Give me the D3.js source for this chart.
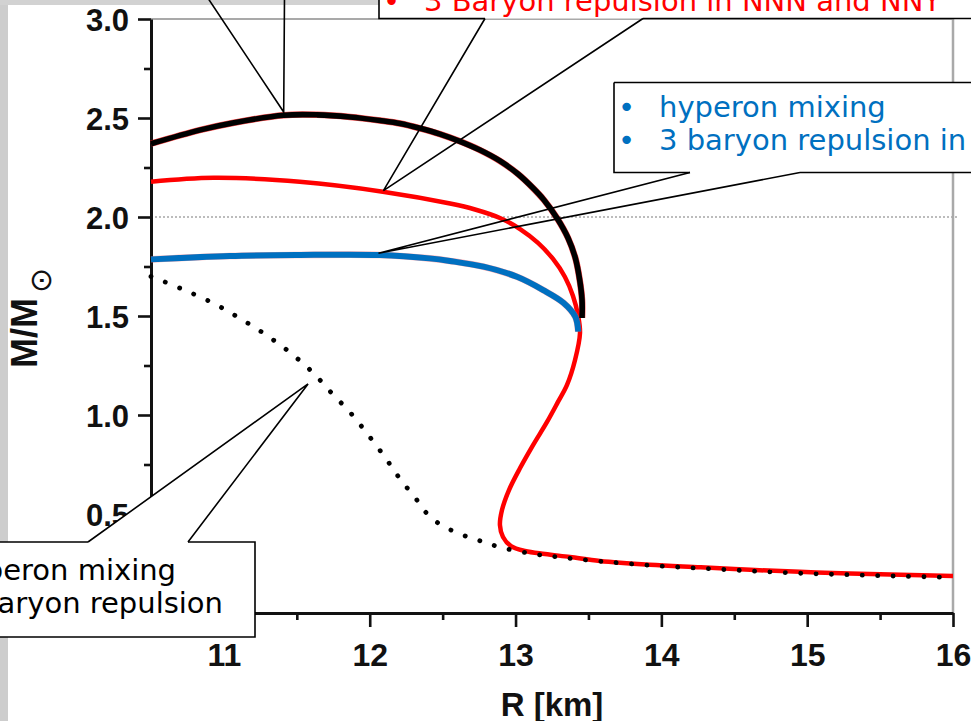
<!DOCTYPE html>
<html>
<head>
<meta charset="utf-8">
<script src="https://cdn.jsdelivr.net/npm/d3@7"></script>
<style>
  html, body { margin: 0; padding: 0; background: #fff; overflow: hidden; }
  svg { display: block; }
</style>
</head>
<body>
<svg id="chart" width="971" height="721"></svg>
<script>
// ---- data: neutron-star mass-radius relations (R in km, M in solar masses) ----
const xTicks = [11, 12, 13, 14, 15, 16];
const xTickLabels = ["11", "12", "13", "14", "15", "16"];
const xMinorTicks = [11.5, 12.5, 13.5, 14.5, 15.5];
const yTicks = [0, 0.5, 1.0, 1.5, 2.0, 2.5, 3.0];
const yTickLabels = ["0.0", "0.5", "1.0", "1.5", "2.0", "2.5", "3.0"];
const yMinorTicks = [0.25, 0.75, 1.25, 1.75, 2.25, 2.75];
const referenceMass = 2.0;

// nucleons only (black)
const nucleonCurve = [
  [10.50, 2.370], [10.84, 2.440], [11.06, 2.475], [11.41, 2.514], [11.64, 2.516],
  [11.865, 2.505], [12.070, 2.487], [12.208, 2.472], [12.345, 2.448], [12.482, 2.419],
  [12.605, 2.386], [12.756, 2.338], [12.893, 2.283], [13.017, 2.217], [13.120, 2.146],
  [13.195, 2.086], [13.284, 1.995], [13.36, 1.894], [13.41, 1.793], [13.44, 1.682],
  [13.456, 1.581], [13.456, 1.490]
];

// 3-baryon repulsion in NNN and NNY (red), including the low-mass branch
const nnnNnyCurve = [
  [10.50, 2.178], [10.93, 2.198], [11.52, 2.178], [12.09, 2.128], [12.551, 2.068],
  [12.722, 2.038], [12.893, 1.995], [13.031, 1.939], [13.154, 1.869], [13.257, 1.788],
  [13.339, 1.697], [13.394, 1.601], [13.428, 1.505], [13.442, 1.414], [13.408, 1.278],
  [13.353, 1.152], [13.291, 1.066], [13.216, 0.965], [13.120, 0.848], [13.031, 0.732],
  [12.955, 0.621], [12.907, 0.520], [12.893, 0.444], [12.914, 0.384], [12.969, 0.338],
  [13.065, 0.313], [13.202, 0.298], [13.373, 0.283], [13.579, 0.263], [13.92, 0.244],
  [14.27, 0.231], [14.61, 0.218], [14.95, 0.208], [15.29, 0.200], [15.64, 0.193],
  [16.00, 0.187]
];

// hyperon mixing + 3-baryon repulsion (blue)
const hyperonCurve = [
  [10.50, 1.786], [11.04, 1.803], [11.50, 1.808], [12.07, 1.808], [12.41, 1.791],
  [12.55, 1.778], [12.78, 1.749], [13.01, 1.698], [13.19, 1.631], [13.33, 1.566],
  [13.41, 1.496], [13.43, 1.421]
];

// hyperon mixing without 3-baryon repulsion (dotted)
const noRepulsionCurve = [
  [10.50, 1.700], [10.70, 1.640], [10.92, 1.567], [11.11, 1.488], [11.29, 1.404],
  [11.46, 1.312], [11.61, 1.214], [11.74, 1.110], [11.87, 1.009], [11.99, 0.899],
  [12.11, 0.781], [12.21, 0.675], [12.32, 0.574], [12.38, 0.512], [12.48, 0.449],
  [12.62, 0.399], [12.76, 0.364], [12.89, 0.333], [13.10, 0.301], [13.31, 0.281],
  [13.58, 0.261], [13.92, 0.241], [14.27, 0.226], [14.61, 0.213], [14.95, 0.201],
  [15.29, 0.193], [15.64, 0.186], [15.98, 0.180]
];

// annotation anchors on the curves [R, M]
const nucleonNote = [11.41, 2.53];
const nnnNnyNote = [12.094, 2.133];
const hyperonNote = [12.06, 1.817];
const noRepulsionNote = [11.577, 1.157];

// ---- drawing ----
const W = 971, H = 721;
const svg = d3.select("#chart");
const x = d3.scaleLinear().domain([10.5, 16]).range([151, 953]);
const y = d3.scaleLinear().domain([0, 3]).range([613, 19]);

const AXIS_FONT = "'Liberation Sans', Arial, Helvetica, sans-serif";
const BOX_FONT = "'DejaVu Sans', Verdana, sans-serif";

// page background and grey margins
svg.append("rect").attr("width", W).attr("height", H).attr("fill", "#fff");
svg.append("rect").attr("x", 0).attr("y", 0).attr("width", 8).attr("height", H).attr("fill", "#cdcdcd");
svg.append("rect").attr("x", 0).attr("y", 0).attr("width", 380).attr("height", 5).attr("fill", "#d2d2d2");

// grey frame on top and right
svg.append("line")
  .attr("x1", x(10.5)).attr("x2", x(16)).attr("y1", y(3)).attr("y2", y(3))
  .attr("stroke", "#a9a9a9").attr("stroke-width", 2);
svg.append("line")
  .attr("x1", x(16)).attr("x2", x(16)).attr("y1", y(3)).attr("y2", y(0))
  .attr("stroke", "#a9a9a9").attr("stroke-width", 2.5);

// 2 M_sun reference line
svg.append("line")
  .attr("x1", x(10.5)).attr("x2", x(16.04))
  .attr("y1", y(referenceMass)).attr("y2", y(referenceMass))
  .attr("stroke", "#a6a6a6").attr("stroke-width", 1.6)
  .attr("stroke-dasharray", "2,2");

// axes
function styleAxis(g, fontSize) {
  g.select(".domain").attr("stroke", "#111").attr("stroke-width", 3);
  g.selectAll(".tick line").attr("stroke", "#111").attr("stroke-width", 2.6);
  g.selectAll(".tick text")
    .attr("fill", "#111")
    .style("font-family", AXIS_FONT)
    .style("font-weight", "bold")
    .style("font-size", fontSize + "px");
}

const yAxis = svg.append("g").attr("transform", `translate(${x(10.5)},0)`)
  .call(d3.axisLeft(y).tickValues(yTicks).tickSize(13).tickSizeOuter(0).tickPadding(9)
    .tickFormat((d, i) => yTickLabels[i]));
styleAxis(yAxis, 31);
yAxis.selectAll(".tick text").attr("dy", "0.36em");

svg.append("g").attr("transform", `translate(${x(10.5)},0)`)
  .call(d3.axisLeft(y).tickValues(yMinorTicks).tickSize(7).tickFormat(""))
  .call(g => g.select(".domain").remove())
  .call(g => g.selectAll(".tick line").attr("stroke", "#111").attr("stroke-width", 2.6));

const xAxis = svg.append("g").attr("transform", `translate(0,${y(0)})`)
  .call(d3.axisBottom(x).tickValues(xTicks).tickSize(14).tickSizeOuter(0).tickPadding(16)
    .tickFormat((d, i) => xTickLabels[i]));
styleAxis(xAxis, 32);

svg.append("g").attr("transform", `translate(0,${y(0)})`)
  .call(d3.axisBottom(x).tickValues(xMinorTicks).tickSize(7).tickFormat(""))
  .call(g => g.select(".domain").remove())
  .call(g => g.selectAll(".tick line").attr("stroke", "#111").attr("stroke-width", 2.6));

// axis titles
svg.append("text")
  .attr("x", (x(10.5) + x(16)) / 2).attr("y", 716)
  .attr("text-anchor", "middle")
  .style("font-family", AXIS_FONT).style("font-weight", "bold").style("font-size", "33px")
  .attr("fill", "#111")
  .text("R [km]");

const yTitle = svg.append("text")
  .attr("transform", "translate(37,368) rotate(-90)")
  .attr("text-anchor", "start")
  .style("font-family", AXIS_FONT).style("font-weight", "bold").style("font-size", "36px")
  .attr("fill", "#111");
yTitle.append("tspan").text("M/M");
yTitle.append("tspan")
  .attr("dx", 5).attr("dy", 14)
  .style("font-family", "'DejaVu Sans', sans-serif").style("font-weight", "normal")
  .style("font-size", "30px")
  .text("\u2299");

// curves
const line = d3.line()
  .x(d => x(d[0]))
  .y(d => y(d[1]))
  .curve(d3.curveCatmullRom.alpha(0.5));

const curves = svg.append("g").attr("fill", "none");

curves.append("path").attr("d", line(nnnNnyCurve))
  .attr("stroke", "#ff0000").attr("stroke-width", 4.5);
// red outline under the nucleon and hyperon branches
curves.append("path").attr("d", line(nucleonCurve))
  .attr("stroke", "#ff2020").attr("stroke-width", 6.5).attr("stroke-opacity", 0.8);
curves.append("path").attr("d", line(hyperonCurve))
  .attr("stroke", "#ff6060").attr("stroke-width", 6.6).attr("stroke-opacity", 0.5);

curves.append("path").attr("d", line(nucleonCurve))
  .attr("stroke", "#000").attr("stroke-width", 5.6);
curves.append("path").attr("d", line(hyperonCurve))
  .attr("stroke", "#0070c0").attr("stroke-width", 6);
curves.append("path").attr("d", line(noRepulsionCurve))
  .attr("stroke", "#000").attr("stroke-width", 4.8)
  .attr("stroke-linecap", "round")
  .attr("stroke-dasharray", "0.1,15.3");

// ---- callouts ----
const notes = svg.append("g");

function pointer(base1, apex, base2) {
  notes.append("path")
    .attr("d", `M${base1[0]},${base1[1]}L${apex[0]},${apex[1]}L${base2[0]},${base2[1]}`)
    .attr("fill", "none")
    .attr("stroke", "#000").attr("stroke-width", 1.6)
    .attr("stroke-linejoin", "miter");
}
function boxOutline(x0, y0, x1, y1, gapFrom, gapTo) {
  notes.append("rect").attr("x", x0).attr("y", y0)
    .attr("width", x1 - x0).attr("height", y1 - y0)
    .attr("fill", "#fff").attr("stroke", "none");
  notes.append("path")
    .attr("d", `M${x0},${y0}H${x1}V${y1}H${gapTo}M${gapFrom},${y1}H${x0}V${y0}`)
    .attr("fill", "none").attr("stroke", "#000").attr("stroke-width", 1.6);
}
function boxOutlineTopGap(x0, y0, x1, y1, gapFrom, gapTo) {
  notes.append("path")
    .attr("d", `M${gapTo},${y0}H${x1}V${y1}H${x0}V${y0}H${gapFrom}`)
    .attr("fill", "none").attr("stroke", "#000").attr("stroke-width", 1.6);
}
const pt = d => [x(d[0]), y(d[1])];

// nucleon note (box above the view)
pointer([206.5, -4], pt(nucleonNote), [284.5, -4]);

// NNN / NNY note
boxOutline(379, -50, 1100, 18.5, 485, 643);
pointer([485, 18.5], pt(nnnNnyNote), [643, 18.5]);
notes.append("text").attr("x", 383).attr("y", 11)
  .style("font-family", BOX_FONT).style("font-size", "29px").attr("fill", "#ff0000")
  .text("\u2022");
notes.append("text").attr("x", 424).attr("y", 11)
  .style("font-family", BOX_FONT).style("font-size", "29px").attr("fill", "#ff0000")
  .text("3 Baryon repulsion in NNN and NNY");

// hyperon note
boxOutline(614, 82.5, 1100, 172.5, 690, 800);
pointer([690, 172.5], pt(hyperonNote), [800, 172.5]);
[["hyperon mixing", 117], ["3 baryon repulsion in", 150]].forEach(([t, by]) => {
  notes.append("text").attr("x", 618).attr("y", by)
    .style("font-family", BOX_FONT).style("font-size", "29px").attr("fill", "#0070c0")
    .text("\u2022");
  notes.append("text").attr("x", 659).attr("y", by)
    .style("font-family", BOX_FONT).style("font-size", "29px").attr("fill", "#0070c0")
    .text(t);
});

// no-repulsion note: white wedge box hiding the axis behind it
const apexB = pt(noRepulsionNote);
notes.append("path")
  .attr("d", `M-20,542H88L${apexB[0]},${apexB[1]}L188,542H255V637H-20Z`)
  .attr("fill", "#fff").attr("stroke", "none");
boxOutlineTopGap(-20, 542, 255, 637, 88, 188);
pointer([88, 542], apexB, [188, 542]);
[["hyperon mixing", 176, 580], ["3 baryon repulsion", 223, 613]].forEach(([t, ex, by]) => {
  notes.append("text").attr("x", ex).attr("y", by).attr("text-anchor", "end")
    .style("font-family", BOX_FONT).style("font-size", "29px").attr("fill", "#000")
    .text(t);
});
</script>
</body>
</html>
